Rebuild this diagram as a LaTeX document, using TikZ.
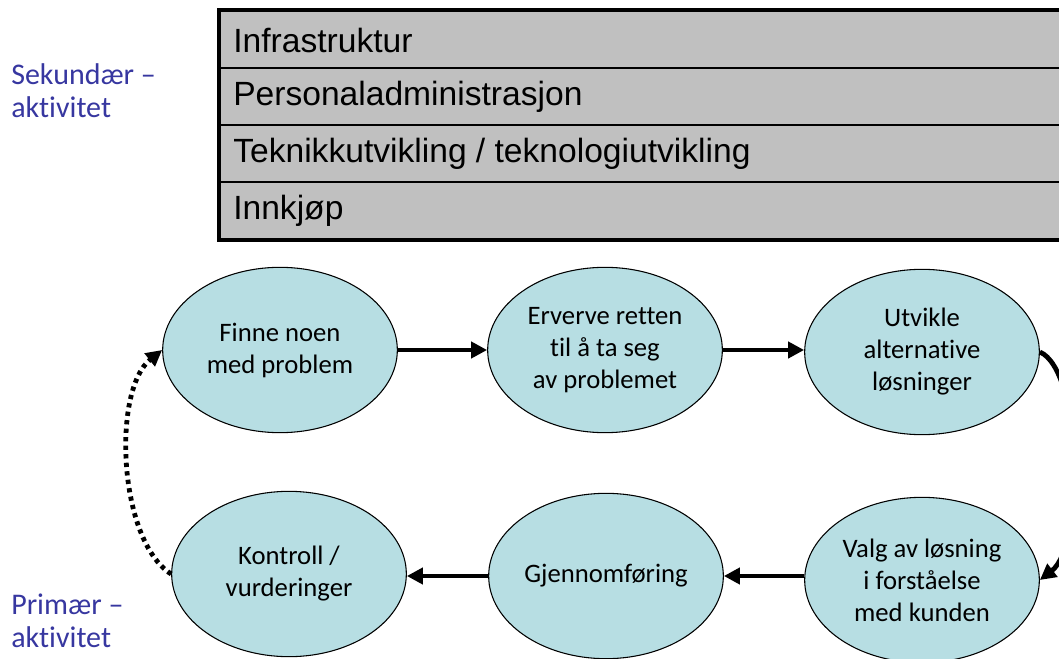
\documentclass[tikz,border=0pt]{standalone}
\usepackage{fontspec}
\setmainfont{Carlito}[Ligatures=NoCommon]
\newfontfamily\arialfont{Liberation Sans}
\usepackage{tikz}
\usetikzlibrary{arrows.meta}
\usetikzlibrary{shapes.geometric}
\definecolor{stagefill}{RGB}{183,222,227}
\definecolor{boxgray}{RGB}{192,192,192}
\definecolor{labelblue}{RGB}{55,55,160}

\begin{document}
\begin{tikzpicture}[x=0.75pt, y=-0.75pt,
    stage/.style={ellipse, draw=black, line width=0.8pt, fill=stagefill, inner sep=0pt,
      minimum width=176pt, minimum height=124pt, align=center,
      font=\fontsize{20}{24}\selectfont},
    flow/.style={line width=3.6pt, -{Triangle[length=12pt, width=12pt]}},
    rowtext/.style={anchor=west, inner sep=0pt, font=\arialfont\fontsize{25.2}{28}\selectfont},
    side/.style={anchor=west, align=left, inner sep=0pt, text=labelblue,
      font=\fontsize{22.5}{24.5}\selectfont}]
  \useasboundingbox (0,0) rectangle (1059,659);

  % secondary activities
  \fill[boxgray] (219,10) rectangle (1075,240);
  \foreach \y in {68,125,182}
    \draw[line width=1.2pt] (219,\y) -- (1075,\y);
  \draw[line width=2.4pt] (1075,10) -- (219,10) -- (219,240) -- (1075,240);
  \node[rowtext] (infra) at (233,40) {Infrastruktur};
  \node[rowtext] (pers) at (233,97) {Personaladministrasjon};
  \node[rowtext] (tek) at (233,154) {Teknikkutvikling / teknologiutvikling};
  \node[rowtext] (innk) at (233,211) {Innkjøp};

  \node[side] (sek) at (11,91) {Sekundær –\\aktivitet};
  \node[side] (prim) at (11,621) {Primær –\\aktivitet};

  % primary activities
  \node[stage] (finne) at (280,350) {Finne noen\\med problem};
  \node[stage] (erverve) at (605,350) {Erverve retten\\til å ta seg\\av problemet};
  \node[stage] (utvikle) at (922,352) {Utvikle\\alternative\\løsninger};
  \node[stage] (valg) at (922,580) {Valg av løsning\\i forståelse\\med kunden};
  \node[stage] (gjen) at (606,576) {Gjennomføring};
  \node[stage] (kontroll) at (289,574) {Kontroll /\\vurderinger};

  \draw[flow] (finne.east) -- (finne.east -| erverve.west);
  \draw[flow] (erverve.east) -- (erverve.east -| utvikle.west);
  \draw[flow] (utvikle.east) .. controls (1082,370) and (1085,545) .. (valg.east);
  \draw[flow] (gjen.east -| valg.west) -- (gjen.east);
  \draw[flow] (gjen.west) -- (gjen.west -| kontroll.east);
  \draw[flow, dash pattern=on 3.2pt off 3.2pt] (kontroll.west) .. controls (118,540) and (112,390) .. (finne.west);
\end{tikzpicture}
\end{document}
